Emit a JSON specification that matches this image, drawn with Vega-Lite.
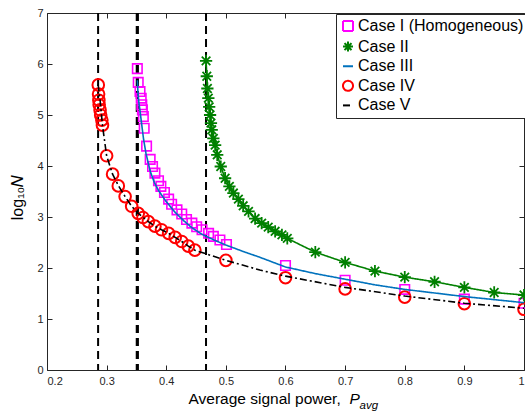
{
  "$schema": "https://vega.github.io/schema/vega-lite/v6.json",
  "width": 477,
  "height": 357,
  "autosize": {"type": "none"},
  "padding": {"left": 47, "top": 13, "right": 1, "bottom": 44},
  "background": "white",
  "config": {
    "view": {"stroke": null},
    "axis": {
      "grid": false,
      "domainColor": "#262626",
      "tickColor": "#262626",
      "labelColor": "#262626",
      "titleColor": "#000000",
      "labelFont": "Liberation Sans",
      "titleFont": "Liberation Sans",
      "labelFontSize": 11,
      "titleFontSize": 15.5,
      "titleFontWeight": "normal",
      "tickSize": -5,
      "tickWidth": 1,
      "domainWidth": 1
    },
    "legend": {
      "orient": "none",
      "legendX": 289,
      "legendY": 1,
      "padding": 4,
      "rowPadding": 2.6,
      "fillColor": "white",
      "strokeColor": "#262626",
      "labelFont": "Liberation Sans",
      "labelFontSize": 16,
      "labelColor": "#000000",
      "labelLimit": 400,
      "labelOffset": 2,
      "symbolSize": 100,
      "symbolStrokeWidth": 2,
      "symbolType": "stroke"
    }
  },
  "datasets": {
    "thresholds": [
      {"case": "Case IV", "p": 0.2857},
      {"case": "Case I (Homogeneous)", "p": 0.3505},
      {"case": "Case III", "p": 0.3525},
      {"case": "Case II", "p": 0.4667}
    ],
    "markers": [
      {"case": "Case I (Homogeneous)", "p": 0.3515, "logN": 5.91},
      {"case": "Case I (Homogeneous)", "p": 0.353, "logN": 5.64},
      {"case": "Case I (Homogeneous)", "p": 0.356, "logN": 5.46},
      {"case": "Case I (Homogeneous)", "p": 0.358, "logN": 5.33},
      {"case": "Case I (Homogeneous)", "p": 0.359, "logN": 5.2},
      {"case": "Case I (Homogeneous)", "p": 0.36, "logN": 5.1},
      {"case": "Case I (Homogeneous)", "p": 0.3616, "logN": 4.97},
      {"case": "Case I (Homogeneous)", "p": 0.363, "logN": 4.74},
      {"case": "Case I (Homogeneous)", "p": 0.367, "logN": 4.39},
      {"case": "Case I (Homogeneous)", "p": 0.373, "logN": 4.13},
      {"case": "Case I (Homogeneous)", "p": 0.377, "logN": 3.99},
      {"case": "Case I (Homogeneous)", "p": 0.381, "logN": 3.86},
      {"case": "Case I (Homogeneous)", "p": 0.387, "logN": 3.71},
      {"case": "Case I (Homogeneous)", "p": 0.391, "logN": 3.6},
      {"case": "Case I (Homogeneous)", "p": 0.397, "logN": 3.48},
      {"case": "Case I (Homogeneous)", "p": 0.404, "logN": 3.35},
      {"case": "Case I (Homogeneous)", "p": 0.409, "logN": 3.25},
      {"case": "Case I (Homogeneous)", "p": 0.418, "logN": 3.14},
      {"case": "Case I (Homogeneous)", "p": 0.426, "logN": 3.06},
      {"case": "Case I (Homogeneous)", "p": 0.434, "logN": 2.95},
      {"case": "Case I (Homogeneous)", "p": 0.443, "logN": 2.88},
      {"case": "Case I (Homogeneous)", "p": 0.451, "logN": 2.81},
      {"case": "Case I (Homogeneous)", "p": 0.46, "logN": 2.75},
      {"case": "Case I (Homogeneous)", "p": 0.471, "logN": 2.68},
      {"case": "Case I (Homogeneous)", "p": 0.479, "logN": 2.62},
      {"case": "Case I (Homogeneous)", "p": 0.49, "logN": 2.55},
      {"case": "Case I (Homogeneous)", "p": 0.501, "logN": 2.46},
      {"case": "Case I (Homogeneous)", "p": 0.6, "logN": 2.05},
      {"case": "Case I (Homogeneous)", "p": 0.7, "logN": 1.76},
      {"case": "Case I (Homogeneous)", "p": 0.8, "logN": 1.58},
      {"case": "Case I (Homogeneous)", "p": 0.9, "logN": 1.39},
      {"case": "Case I (Homogeneous)", "p": 1.0, "logN": 1.31},
      {"case": "Case IV", "p": 0.286, "logN": 5.59},
      {"case": "Case IV", "p": 0.2865, "logN": 5.41},
      {"case": "Case IV", "p": 0.287, "logN": 5.29},
      {"case": "Case IV", "p": 0.2875, "logN": 5.2},
      {"case": "Case IV", "p": 0.289, "logN": 5.1},
      {"case": "Case IV", "p": 0.29, "logN": 5.0},
      {"case": "Case IV", "p": 0.292, "logN": 4.9},
      {"case": "Case IV", "p": 0.293, "logN": 4.8},
      {"case": "Case IV", "p": 0.3, "logN": 4.2},
      {"case": "Case IV", "p": 0.31, "logN": 3.84},
      {"case": "Case IV", "p": 0.3196, "logN": 3.61},
      {"case": "Case IV", "p": 0.331, "logN": 3.4},
      {"case": "Case IV", "p": 0.342, "logN": 3.21},
      {"case": "Case IV", "p": 0.353, "logN": 3.07},
      {"case": "Case IV", "p": 0.361, "logN": 2.99},
      {"case": "Case IV", "p": 0.37, "logN": 2.91},
      {"case": "Case IV", "p": 0.381, "logN": 2.82},
      {"case": "Case IV", "p": 0.392, "logN": 2.75},
      {"case": "Case IV", "p": 0.404, "logN": 2.68},
      {"case": "Case IV", "p": 0.415, "logN": 2.6},
      {"case": "Case IV", "p": 0.426, "logN": 2.52},
      {"case": "Case IV", "p": 0.437, "logN": 2.43},
      {"case": "Case IV", "p": 0.448, "logN": 2.35},
      {"case": "Case IV", "p": 0.5, "logN": 2.15},
      {"case": "Case IV", "p": 0.6, "logN": 1.81},
      {"case": "Case IV", "p": 0.7, "logN": 1.59},
      {"case": "Case IV", "p": 0.8, "logN": 1.43},
      {"case": "Case IV", "p": 0.9, "logN": 1.3},
      {"case": "Case IV", "p": 1.0, "logN": 1.19}
    ],
    "curves": [
      {"case": "Case II", "p": 0.4668, "logN": 6.06},
      {"case": "Case II", "p": 0.468, "logN": 5.76},
      {"case": "Case II", "p": 0.469, "logN": 5.52},
      {"case": "Case II", "p": 0.4706, "logN": 5.33},
      {"case": "Case II", "p": 0.472, "logN": 5.16},
      {"case": "Case II", "p": 0.4735, "logN": 5.0},
      {"case": "Case II", "p": 0.475, "logN": 4.84},
      {"case": "Case II", "p": 0.4763, "logN": 4.71},
      {"case": "Case II", "p": 0.479, "logN": 4.54},
      {"case": "Case II", "p": 0.482, "logN": 4.41},
      {"case": "Case II", "p": 0.4855, "logN": 4.22},
      {"case": "Case II", "p": 0.4914, "logN": 3.99},
      {"case": "Case II", "p": 0.4987, "logN": 3.76},
      {"case": "Case II", "p": 0.5059, "logN": 3.6},
      {"case": "Case II", "p": 0.5126, "logN": 3.47},
      {"case": "Case II", "p": 0.521, "logN": 3.35},
      {"case": "Case II", "p": 0.529, "logN": 3.22},
      {"case": "Case II", "p": 0.538, "logN": 3.11},
      {"case": "Case II", "p": 0.549, "logN": 2.97},
      {"case": "Case II", "p": 0.56, "logN": 2.88},
      {"case": "Case II", "p": 0.571, "logN": 2.8},
      {"case": "Case II", "p": 0.5826, "logN": 2.72},
      {"case": "Case II", "p": 0.594, "logN": 2.65},
      {"case": "Case II", "p": 0.603, "logN": 2.58},
      {"case": "Case II", "p": 0.65, "logN": 2.31},
      {"case": "Case II", "p": 0.7, "logN": 2.11},
      {"case": "Case II", "p": 0.75, "logN": 1.94},
      {"case": "Case II", "p": 0.8, "logN": 1.82},
      {"case": "Case II", "p": 0.85, "logN": 1.73},
      {"case": "Case II", "p": 0.9, "logN": 1.62},
      {"case": "Case II", "p": 0.95, "logN": 1.52},
      {"case": "Case II", "p": 1.0, "logN": 1.47},
      {"case": "Case III", "p": 0.3515, "logN": 5.68},
      {"case": "Case III", "p": 0.3525, "logN": 5.45},
      {"case": "Case III", "p": 0.354, "logN": 5.25},
      {"case": "Case III", "p": 0.356, "logN": 5.08},
      {"case": "Case III", "p": 0.359, "logN": 4.8},
      {"case": "Case III", "p": 0.362, "logN": 4.52},
      {"case": "Case III", "p": 0.366, "logN": 4.25},
      {"case": "Case III", "p": 0.373, "logN": 3.9},
      {"case": "Case III", "p": 0.38, "logN": 3.68},
      {"case": "Case III", "p": 0.387, "logN": 3.52},
      {"case": "Case III", "p": 0.4, "logN": 3.3},
      {"case": "Case III", "p": 0.415, "logN": 3.09},
      {"case": "Case III", "p": 0.43, "logN": 2.92},
      {"case": "Case III", "p": 0.443, "logN": 2.79},
      {"case": "Case III", "p": 0.46, "logN": 2.66},
      {"case": "Case III", "p": 0.48, "logN": 2.55},
      {"case": "Case III", "p": 0.5, "logN": 2.45},
      {"case": "Case III", "p": 0.53, "logN": 2.32},
      {"case": "Case III", "p": 0.557, "logN": 2.21},
      {"case": "Case III", "p": 0.6, "logN": 2.02},
      {"case": "Case III", "p": 0.65, "logN": 1.89},
      {"case": "Case III", "p": 0.7, "logN": 1.78},
      {"case": "Case III", "p": 0.75, "logN": 1.67},
      {"case": "Case III", "p": 0.8, "logN": 1.58},
      {"case": "Case III", "p": 0.85, "logN": 1.51},
      {"case": "Case III", "p": 0.9, "logN": 1.44},
      {"case": "Case III", "p": 0.95, "logN": 1.38},
      {"case": "Case III", "p": 1.0, "logN": 1.32},
      {"case": "Case V", "p": 0.2857, "logN": 5.6},
      {"case": "Case V", "p": 0.289, "logN": 5.3},
      {"case": "Case V", "p": 0.293, "logN": 4.8},
      {"case": "Case V", "p": 0.3, "logN": 4.2},
      {"case": "Case V", "p": 0.31, "logN": 3.84},
      {"case": "Case V", "p": 0.32, "logN": 3.61},
      {"case": "Case V", "p": 0.331, "logN": 3.4},
      {"case": "Case V", "p": 0.342, "logN": 3.21},
      {"case": "Case V", "p": 0.353, "logN": 3.07},
      {"case": "Case V", "p": 0.37, "logN": 2.91},
      {"case": "Case V", "p": 0.381, "logN": 2.82},
      {"case": "Case V", "p": 0.392, "logN": 2.75},
      {"case": "Case V", "p": 0.404, "logN": 2.68},
      {"case": "Case V", "p": 0.415, "logN": 2.6},
      {"case": "Case V", "p": 0.426, "logN": 2.52},
      {"case": "Case V", "p": 0.437, "logN": 2.43},
      {"case": "Case V", "p": 0.448, "logN": 2.35},
      {"case": "Case V", "p": 0.5, "logN": 2.15},
      {"case": "Case V", "p": 0.557, "logN": 1.96},
      {"case": "Case V", "p": 0.6, "logN": 1.84},
      {"case": "Case V", "p": 0.7, "logN": 1.62},
      {"case": "Case V", "p": 0.8, "logN": 1.45},
      {"case": "Case V", "p": 0.9, "logN": 1.31},
      {"case": "Case V", "p": 1.0, "logN": 1.21}
    ]
  },
  "resolve": {"axis": {"x": "independent", "y": "independent"}},
  "layer": [
    {
      "data": {"name": "thresholds"},
      "mark": {"type": "rule", "color": "black", "strokeWidth": 2, "strokeDash": [8, 5]},
      "encoding": {
        "x": {
          "field": "p", "type": "quantitative",
          "scale": {"domain": [0.2, 1], "nice": false, "zero": false},
          "axis": {
            "orient": "bottom",
            "values": [0.2, 0.3, 0.4, 0.5, 0.6, 0.7, 0.8, 0.9, 1],
            "format": "~g",
            "labelPadding": 10,
            "title": "Average signal power,",
            "titleX": 141, "titleY": 33,
            "titleAlign": "left", "titleBaseline": "alphabetic", "titleAnchor": null
          }
        }
      }
    },
    {
      "data": {"name": "markers"},
      "transform": [{"filter": "datum.case === 'Case I (Homogeneous)'"}],
      "mark": {"type": "point", "filled": false, "strokeWidth": 1.6, "size": 90, "opacity": 1},
      "encoding": {
        "x": {
          "field": "p", "type": "quantitative",
          "axis": {
            "orient": "top", "labels": false, "title": null,
            "values": [0.2, 0.3, 0.4, 0.5, 0.6, 0.7, 0.8, 0.9, 1]
          }
        },
        "y": {
          "field": "logN", "type": "quantitative",
          "scale": {"domain": [0, 7], "nice": false},
          "axis": {"orient": "right", "labels": false, "title": null, "values": [0, 1, 2, 3, 4, 5, 6, 7]}
        },
        "color": {
          "field": "case", "type": "nominal",
          "scale": {
            "domain": ["Case I (Homogeneous)", "Case II", "Case III", "Case IV", "Case V"],
            "range": ["#FF00FF", "#008000", "#0072BD", "#FF0000", "#000000"]
          },
          "legend": {"title": null}
        },
        "shape": {
          "field": "case", "type": "nominal",
          "scale": {
            "domain": ["Case I (Homogeneous)", "Case II", "Case III", "Case IV", "Case V"],
            "range": ["square", "M-1,0H1M0,-1V1M-0.7,-0.7L0.7,0.7M-0.7,0.7L0.7,-0.7", "stroke", "circle", "stroke"]
          },
          "legend": {"title": null}
        }
      }
    },
    {
      "data": {"name": "markers"},
      "transform": [{"filter": "datum.case === 'Case IV'"}],
      "mark": {"type": "point", "filled": false, "strokeWidth": 2, "size": 135, "opacity": 1},
      "encoding": {
        "x": {
          "field": "p", "type": "quantitative",
          "axis": {
            "orient": "bottom", "labels": false, "ticks": false, "domain": false,
            "title": "P", "titleFontStyle": "italic",
            "titleX": 302, "titleY": 33,
            "titleAlign": "left", "titleBaseline": "alphabetic", "titleAnchor": null
          }
        },
        "y": {"field": "logN", "type": "quantitative", "axis": null},
        "color": {"field": "case", "type": "nominal", "legend": {"title": null}},
        "shape": {"field": "case", "type": "nominal", "legend": {"title": null}}
      }
    },
    {
      "data": {"name": "curves"},
      "transform": [{"filter": "datum.case === 'Case II'"}],
      "mark": {"type": "point", "filled": false, "strokeWidth": 1.8, "size": 150, "opacity": 1},
      "encoding": {
        "x": {
          "field": "p", "type": "quantitative",
          "axis": {
            "orient": "bottom", "labels": false, "ticks": false, "domain": false,
            "title": "avg", "titleFontStyle": "italic", "titleFontSize": 11.5,
            "titleX": 312, "titleY": 38,
            "titleAlign": "left", "titleBaseline": "alphabetic", "titleAnchor": null
          }
        },
        "y": {"field": "logN", "type": "quantitative", "axis": null},
        "color": {"field": "case", "type": "nominal", "legend": {"title": null}},
        "shape": {"field": "case", "type": "nominal", "legend": {"title": null}}
      }
    },
    {
      "data": {"name": "curves"},
      "mark": {"type": "line"},
      "encoding": {
        "x": {"field": "p", "type": "quantitative", "axis": null},
        "y": {
          "field": "logN", "type": "quantitative",
          "axis": {
            "orient": "left",
            "values": [0, 1, 2, 3, 4, 5, 6, 7],
            "labelPadding": 9,
            "title": "log₁₀𝑁",
            "titleFontSize": 16,
            "titleX": -25, "titleY": 184, "titleAngle": 270,
            "titleAlign": "center", "titleBaseline": "alphabetic", "titleAnchor": null
          }
        },
        "color": {"field": "case", "type": "nominal", "legend": {"title": null}},
        "strokeDash": {
          "field": "case", "type": "nominal",
          "scale": {
            "domain": ["Case I (Homogeneous)", "Case II", "Case III", "Case IV", "Case V"],
            "range": [[1, 0], [1, 0], [1, 0], [1, 0], [7, 3, 2, 3]]
          },
          "legend": {"title": null}
        },
        "strokeWidth": {
          "field": "case", "type": "nominal",
          "scale": {"domain": ["Case II", "Case III", "Case V"], "range": [1.6, 1.6, 2.8]},
          "legend": null
        }
      }
    }
  ]
}
